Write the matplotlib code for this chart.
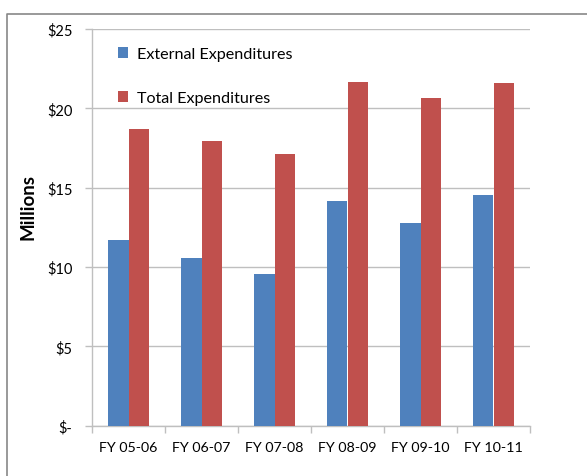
import numpy as np
import matplotlib
matplotlib.use("Agg")
import matplotlib.pyplot as plt
from matplotlib.lines import Line2D

plt.rcParams['font.family'] = ['Lato', 'DejaVu Sans']

years = ["FY 05-06", "FY 06-07", "FY 07-08", "FY 08-09", "FY 09-10", "FY 10-11"]
external = [11.72, 10.58, 9.55, 14.18, 12.77, 14.57]
total = [18.72, 17.94, 17.10, 21.68, 20.67, 21.58]
ytick_vals = [0, 5, 10, 15, 20, 25]
ytick_labels = ["$-", "$5", "$10", "$15", "$20", "$25"]

blue = "#4F81BD"
red = "#C0504D"
grid_c = "#BFBFBF"

fig = plt.figure(figsize=(5.87, 4.77), dpi=100)
ax = fig.add_axes([92 / 587, 1 - 426.7 / 477, 438 / 587, 396.7 / 477])

# outer chart frame (only top and left edges are visible in the crop)
fig.add_artist(Line2D([6.5 / 587, 6.5 / 587, 1], [0, 1 - 14.5 / 477, 1 - 14.5 / 477],
                      transform=fig.transFigure, color="#878787", lw=1.2))

x = np.arange(len(years))
w = 1 / 3.5
ax.bar(x - w / 2, external, w, color=blue, label="External Expenditures", zorder=3)
ax.bar(x + w / 2, total, w, color=red, label="Total Expenditures", zorder=3)

ax.set_xlim(-0.5, len(years) - 0.5)
ax.set_ylim(0, 25)
ax.set_yticks(ytick_vals)
ax.set_yticklabels(ytick_labels)
ax.set_xticks(x)
ax.set_xticklabels(years)
ax.set_xticks(np.arange(len(years) + 1) - 0.5, minor=True)

ax.yaxis.grid(True, color=grid_c, lw=1, zorder=0)
ax.set_axisbelow(True)
for s in ["top", "right"]:
    ax.spines[s].set_visible(False)
for s in ["left", "bottom"]:
    ax.spines[s].set_color(grid_c)
    ax.spines[s].set_linewidth(1)

ax.tick_params(axis="x", which="major", length=0, labelsize=10.3, pad=11, colors="black")
ax.tick_params(axis="x", which="minor", length=5, color=grid_c, width=1)
ax.tick_params(axis="y", length=5, color=grid_c, width=1, labelsize=10.5, pad=9)

ax.set_ylabel("Millions", fontsize=13.5, fontweight="bold")
ax.yaxis.set_label_coords(-0.126, 0.554)

ax.legend(loc="upper left", bbox_to_anchor=(26 / 438, 1 - 18 / 396.7), frameon=False,
          fontsize=11.6, handlelength=0.65, handleheight=0.65, handletextpad=0.5,
          labelspacing=1.85, borderpad=0, borderaxespad=0)

fig.savefig("out.png", dpi=100)
